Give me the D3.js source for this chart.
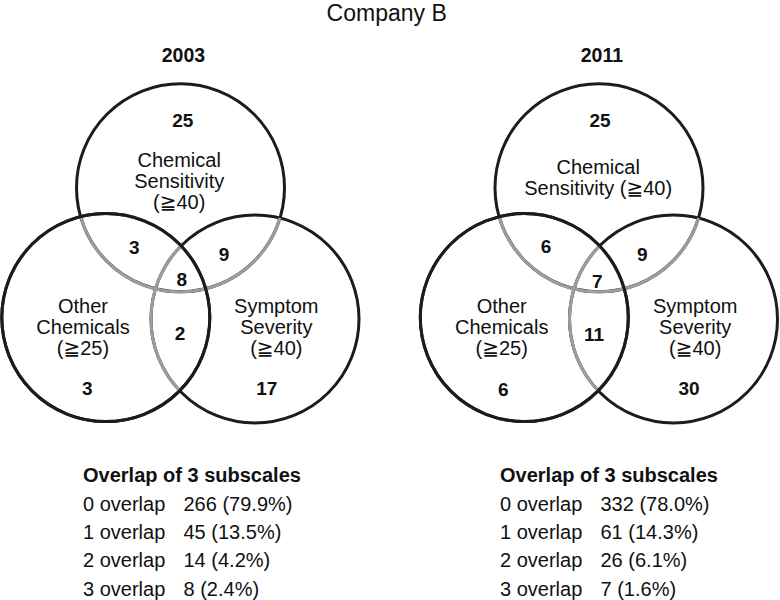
<!DOCTYPE html>
<html>
<head>
<meta charset="utf-8">
<script src="https://cdn.jsdelivr.net/npm/d3@7"></script>
<style>
  html, body { margin: 0; padding: 0; background: #fff; }
  svg text { font-family: "Liberation Sans", Arial, Helvetica, "DejaVu Sans", sans-serif; fill: #111; }
</style>
</head>
<body>
<svg id="chart" width="780" height="600"></svg>
<script>
// ---------------- DATA ----------------
const chartTitle = "Company B";
const years = ["2003", "2011"];
const setNames = ["Chemical Sensitivity (≧40)", "Other Chemicals (≧25)", "Symptom Severity (≧40)"];
const labelLines2003 = [["Chemical", "Sensitivity", "(≧40)"], ["Other", "Chemicals", "(≧25)"], ["Symptom", "Severity", "(≧40)"]];
const labelLines2011 = [["Chemical", "Sensitivity (≧40)"], ["Other", "Chemicals", "(≧25)"], ["Symptom", "Severity", "(≧40)"]];
const regions = ["CS only", "OC only", "SS only", "CS+OC", "CS+SS", "OC+SS", "All three"];
const counts2003 = [25, 3, 17, 3, 9, 2, 8];
const counts2011 = [25, 6, 30, 6, 9, 11, 7];
const overlapTitle = "Overlap of 3 subscales";
const overlapLevels = ["0 overlap", "1 overlap", "2 overlap", "3 overlap"];
const overlapN2003 = [266, 45, 14, 8];
const overlapPct2003 = [79.9, 13.5, 4.2, 2.4];
const overlapN2011 = [332, 61, 26, 7];
const overlapPct2011 = [78.0, 14.3, 6.1, 1.6];

// ---------------- LAYOUT ----------------
const svg = d3.select("#chart");
const BLACK = "#1c1c1c", GREY = "#9d9d9d", SW = 3;

// circle centres in panel-local pixel units (Chemical Sensitivity, Other Chemicals, Symptom Severity)
const circleLayout = [{x: 180.5, y: 187.8}, {x: 105.8, y: 317.6}, {x: 255.0, y: 319.0}];
const R = 104;

const panels = [
  {
    year: years[0], offset: 0, labels: labelLines2003, counts: counts2003,
    n: overlapN2003, pct: overlapPct2003,
    regionPos: [[182.7,127.3],[87.3,395],[266.7,395],[134.3,254],[224,261],[180,340],[181.7,285.7]],
    labelPos: [[179.2,166.7],[83,312.7],[276.3,312.7]],
    tableX: 83, valueX: 183.5
  },
  {
    year: years[1], offset: 418.5, labels: labelLines2011, counts: counts2011,
    n: overlapN2011, pct: overlapPct2011,
    regionPos: [[181.5,127.3],[84.8,396],[270.5,395.3],[127.5,252.7],[223.8,260.7],[175.5,341],[178.8,288.3]],
    labelPos: [[179.7,174],[83.2,312.7],[276.7,312.7]],
    tableX: 81.5, valueX: 182
  }
];

// title
svg.append("text")
  .attr("x", 386.7).attr("y", 21)
  .attr("text-anchor", "middle")
  .style("font-size", "23px")
  .text(chartTitle);

function arcInside(A, B, r) {
  const dx = B.x - A.x, dy = B.y - A.y;
  const d = Math.hypot(dx, dy);
  const th = Math.atan2(dy, dx);
  const a = Math.acos(d / (2 * r));
  return [th - a, th + a];
}

panels.forEach(p => {
  const g = svg.append("g");
  const x = d3.scaleLinear().domain([0, 390]).range([p.offset, p.offset + 390]);
  const y = d3.scaleLinear().domain([0, 600]).range([0, 600]);
  const C = circleLayout.map(c => ({x: x(c.x), y: y(c.y)}));
  const r = x(R) - x(0);

  // year heading
  g.append("text")
    .attr("x", x(183.4)).attr("y", y(61.7))
    .attr("text-anchor", "middle")
    .style("font-size", "19.5px").style("font-weight", "bold")
    .text(p.year);

  // full black circles
  g.selectAll("circle.set").data(C).join("circle")
    .attr("class", "set")
    .attr("cx", d => d.x).attr("cy", d => d.y).attr("r", r)
    .attr("fill", "none").attr("stroke", BLACK).attr("stroke-width", SW);

  // grey inner arcs: CS circle inside OC ∪ SS; SS circle inside OC
  const [tR0, tR1] = arcInside(C[0], C[2], r);
  const [tL0, tL1] = arcInside(C[0], C[1], r);
  const p1 = d3.path();
  p1.arc(C[0].x, C[0].y, r, Math.min(tR0, tL0), Math.max(tR1, tL1));
  const [rL0, rL1] = arcInside(C[2], C[1], r);
  const p2 = d3.path();
  p2.arc(C[2].x, C[2].y, r, rL0, rL1);
  g.selectAll("path.inner").data([p1.toString(), p2.toString()]).join("path")
    .attr("class", "inner")
    .attr("d", d => d)
    .attr("fill", "none").attr("stroke", GREY).attr("stroke-width", SW);

  // Other Chemicals circle redrawn fully black on top
  g.append("circle")
    .attr("cx", C[1].x).attr("cy", C[1].y).attr("r", r)
    .attr("fill", "none").attr("stroke", BLACK).attr("stroke-width", SW);

  // set labels
  p.labels.forEach((lines, i) => {
    const t = g.append("text")
      .attr("text-anchor", "middle")
      .style("font-size", "20px");
    lines.forEach((ln, j) => {
      t.append("tspan")
        .attr("x", x(p.labelPos[i][0]))
        .attr("y", y(p.labelPos[i][1] + j * 21))
        .text(ln);
    });
  });

  // region counts
  g.selectAll("text.count").data(p.counts).join("text")
    .attr("class", "count")
    .attr("x", (d, i) => x(p.regionPos[i][0]))
    .attr("y", (d, i) => y(p.regionPos[i][1]))
    .attr("text-anchor", "middle")
    .style("font-size", "19px").style("font-weight", "bold")
    .text(d => d);

  // overlap table
  g.append("text")
    .attr("x", x(p.tableX)).attr("y", y(481.7))
    .style("font-size", "20px").style("font-weight", "bold")
    .text(overlapTitle);
  const rowY = d3.scaleLinear().domain([0, 3]).range([510.7, 595.5]);
  g.selectAll("text.lvl").data(overlapLevels).join("text")
    .attr("class", "lvl")
    .attr("x", x(p.tableX)).attr("y", (d, i) => rowY(i))
    .style("font-size", "20px")
    .text(d => d);
  g.selectAll("text.val").data(p.n).join("text")
    .attr("class", "val")
    .attr("x", x(p.valueX)).attr("y", (d, i) => rowY(i))
    .style("font-size", "20px")
    .text((d, i) => `${d} (${p.pct[i].toFixed(1)}%)`);
});
</script>
</body>
</html>
